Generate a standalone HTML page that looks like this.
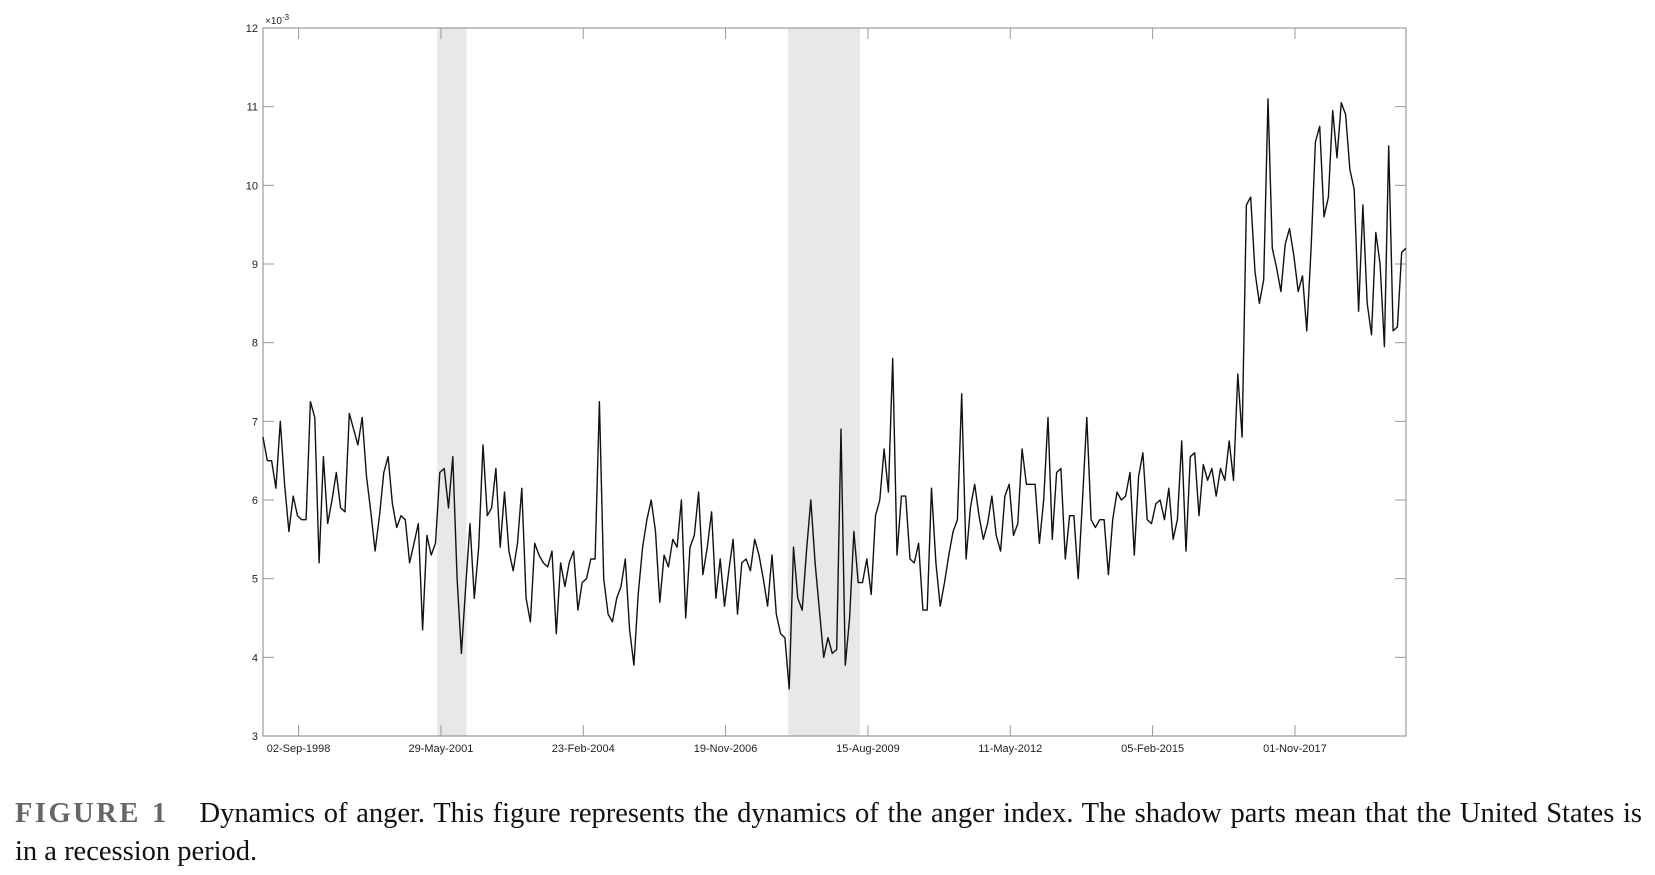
<!DOCTYPE html>
<html><head><meta charset="utf-8"><style>
html,body{margin:0;padding:0;background:#fff;width:1655px;height:875px;overflow:hidden}
.cap{position:absolute;left:15px;font-family:"Liberation Serif",serif;font-size:28.5px;line-height:38px;color:#111;white-space:nowrap}
#cap1{top:795px;width:1627px;text-align:justify;text-align-last:justify}
#cap2{top:833px}
#cap1 b{color:#666;letter-spacing:2.5px;margin-right:22px;font-weight:bold}
</style></head><body>
<svg id="chart" width="1655" height="790" style="position:absolute;left:0;top:0" font-family="Liberation Sans, sans-serif"></svg>
<div id="cap1" class="cap"><b>FIGURE 1</b> Dynamics of anger. This figure represents the dynamics of the anger index. The shadow parts mean that the United States is</div>
<div id="cap2" class="cap">in a recession period.</div>
<script>
const anger=[6.8,6.5,6.5,6.15,7.0,6.2,5.6,6.05,5.8,5.75,5.75,7.25,7.05,5.2,6.55,5.7,6.0,6.35,5.9,5.85,7.1,6.9,6.7,7.05,6.3,5.85,5.35,5.8,6.35,6.55,5.95,5.65,5.8,5.75,5.2,5.45,5.7,4.35,5.55,5.3,5.45,6.35,6.4,5.9,6.55,5.0,4.05,4.9,5.7,4.75,5.4,6.7,5.8,5.9,6.4,5.4,6.1,5.35,5.1,5.45,6.15,4.75,4.45,5.45,5.3,5.2,5.15,5.35,4.3,5.2,4.9,5.2,5.35,4.6,4.95,5.0,5.25,5.25,7.25,5.0,4.55,4.45,4.75,4.9,5.25,4.35,3.9,4.8,5.4,5.75,6.0,5.6,4.7,5.3,5.15,5.5,5.4,6.0,4.5,5.4,5.55,6.1,5.05,5.4,5.85,4.75,5.25,4.65,5.1,5.5,4.55,5.2,5.25,5.1,5.5,5.3,5.0,4.65,5.3,4.55,4.3,4.25,3.6,5.4,4.75,4.6,5.35,6.0,5.2,4.6,4.0,4.25,4.05,4.1,6.9,3.9,4.5,5.6,4.95,4.95,5.25,4.8,5.8,6.0,6.65,6.1,7.8,5.3,6.05,6.05,5.25,5.2,5.45,4.6,4.6,6.15,5.2,4.65,4.95,5.3,5.6,5.75,7.35,5.25,5.9,6.2,5.8,5.5,5.7,6.05,5.55,5.35,6.05,6.2,5.55,5.7,6.65,6.2,6.2,6.2,5.45,6.0,7.05,5.5,6.35,6.4,5.25,5.8,5.8,5.0,6.0,7.05,5.75,5.65,5.75,5.75,5.05,5.75,6.1,6.0,6.05,6.35,5.3,6.3,6.6,5.75,5.7,5.95,6.0,5.75,6.15,5.5,5.75,6.75,5.35,6.55,6.6,5.8,6.45,6.25,6.4,6.05,6.4,6.25,6.75,6.25,7.6,6.8,9.75,9.85,8.9,8.5,8.8,11.1,9.2,8.95,8.65,9.25,9.45,9.1,8.65,8.85,8.15,9.2,10.55,10.75,9.6,9.85,10.95,10.35,11.05,10.9,10.2,9.95,8.4,9.75,8.5,8.1,9.4,9.0,7.95,10.5,8.15,8.2,9.15,9.2];
const yTicks=[3,4,5,6,7,8,9,10,11,12];
const xTickLabels=["02-Sep-1998","29-May-2001","23-Feb-2004","19-Nov-2006","15-Aug-2009","11-May-2012","05-Feb-2015","01-Nov-2017"];
const xTickIdx=[8.25,41.25,74.25,107.25,140.25,173.25,206.25,239.25];
const recessions=[[40.4,47.2],[121.7,138.4]];
const NS="http://www.w3.org/2000/svg";
const svg=document.getElementById('chart');
const L=263,R=1406,T=28,B=736,yMin=3,yMax=12;
const xs=i=>L+i/(anger.length-1)*(R-L);
const ys=v=>B-(v-yMin)/(yMax-yMin)*(B-T);
function mk(tag,at){const e=document.createElementNS(NS,tag);for(const k in at)e.setAttribute(k,at[k]);svg.appendChild(e);return e;}
recessions.forEach(r=>{const e=mk('rect',{x:xs(r[0]),y:T,width:xs(r[1])-xs(r[0]),height:B-T,fill:'#e8e8e8'});

});
const fr=mk('rect',{x:L,y:T,width:R-L,height:B-T,fill:'none',stroke:'#999','stroke-width':1.2});


yTicks.forEach(v=>{const y=ys(v);
mk('line',{x1:L,x2:L+11,y1:y,y2:y,stroke:'#999'});mk('line',{x1:R-11,x2:R,y1:y,y2:y,stroke:'#999'});
const t=mk('text',{x:L-5,y:y+4,'text-anchor':'end','font-size':11,fill:'#222'});t.textContent=v;

});
xTickIdx.forEach((i,k)=>{const x=xs(i);
mk('line',{x1:x,x2:x,y1:B,y2:B-11,stroke:'#999'});mk('line',{x1:x,x2:x,y1:T,y2:T+11,stroke:'#999'});
const t=mk('text',{x:x,y:B+16,'text-anchor':'middle','font-size':11,fill:'#222'});t.textContent=xTickLabels[k];

});
const ex=mk('text',{x:L+2,y:T-4,'font-size':10,fill:'#222'});ex.innerHTML='×10<tspan dy="-4" font-size="8">-3</tspan>';


const line=mk('polyline',{points:anger.map((v,i)=>xs(i).toFixed(1)+','+ys(v).toFixed(1)).join(' '),fill:'none',stroke:'#111','stroke-width':1.4,'stroke-linejoin':'round'});


</script>
</body></html>
